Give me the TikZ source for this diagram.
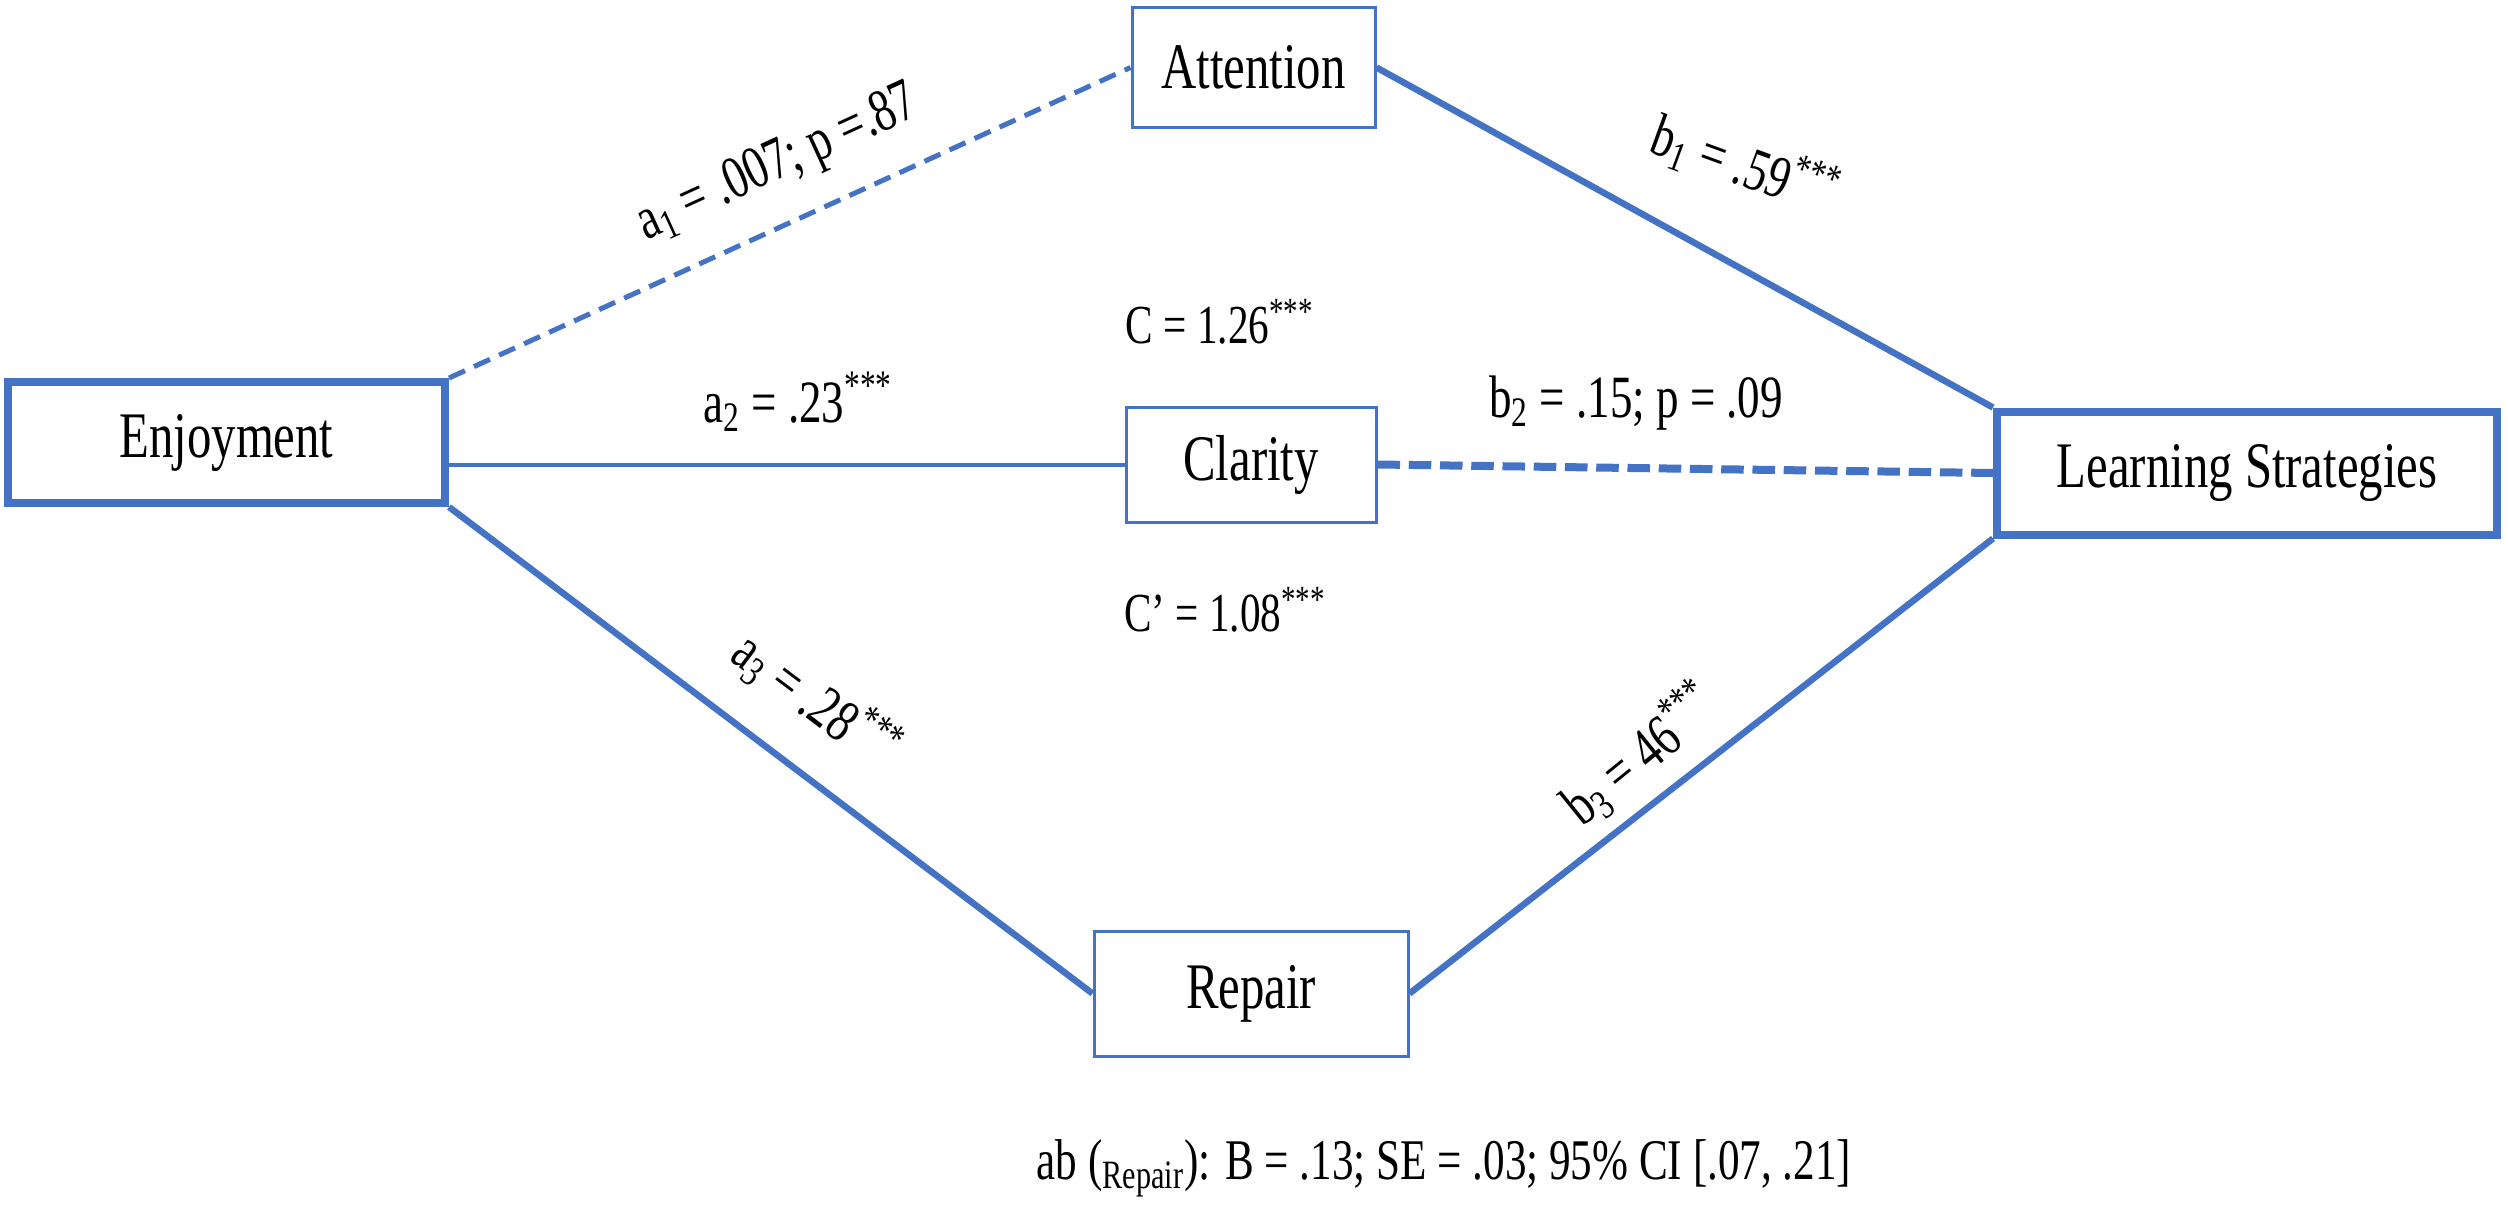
\documentclass[tikz,border=0pt]{standalone}
\usepackage{fontspec}
\setmainfont[FakeStretch=0.75]{Liberation Serif}
\usepackage{tikz}
\usetikzlibrary{positioning}
\definecolor{pathblue}{RGB}{68,114,196}
\tikzset{
  varbox/.style={draw=pathblue, line width=1.2pt, fill=white, inner sep=0pt, font=\fontsize{26}{30}\selectfont},
  mainbox/.style={varbox, line width=3.2pt},
  effect/.style={draw=pathblue, line width=2.6pt},
  nseffect/.style={draw=pathblue, line width=2pt, dash pattern=on 7pt off 4pt},
  nsbold/.style={draw=pathblue, line width=3.2pt, dash pattern=on 9pt off 3.5pt},
  coef/.style={font=\fontsize{24}{28}\selectfont, inner sep=0pt},
  total/.style={font=\fontsize{22}{26}\selectfont, inner sep=0pt}
}

\begin{document}
\begin{tikzpicture}[x=0.4pt,y=-0.4pt]
\useasboundingbox (0,0) rectangle (2508,1213);
% variables
\node[mainbox, minimum width=174.8pt, minimum height=48.4pt] (enjoy) at (226.5,442.5) {Enjoyment};
\node[varbox, minimum width=97.2pt, minimum height=47.6pt] (attn) at (1253.5,67.5) {Attention};
\node[varbox, minimum width=100pt, minimum height=46pt] (clar) at (1251,464.5) {Clarity};
\node[varbox, minimum width=125.6pt, minimum height=50pt] (repair) at (1251,993.5) {Repair};
\node[mainbox, minimum width=200pt, minimum height=49.2pt] (learn) at (2247,473) {Learning Strategies};
% paths
\draw[nseffect] (enjoy.north east) -- (attn.west);
\draw[effect, line width=1.6pt] (enjoy.east |- clar.west) -- (clar.west);
\draw[effect] (enjoy.south east) -- (repair.west);
\draw[effect] (attn.east) -- (learn.north west);
\draw[nsbold] (clar.east) -- (learn.west);
\draw[effect] (repair.east) -- (learn.south west);
% coefficients
\node[coef, rotate=24.6] (la1) at (778,165) {a\textsubscript{1} = .007; p =.87};
\node[coef, rotate=-20] (lb1) at (1745,165) {b\textsubscript{1} = .59\textsuperscript{***}};
\node[total] (lc) at (1220,322) {C = 1.26\textsuperscript{***}};
\node[coef] (la2) at (798,402) {a\textsubscript{2} = .23\textsuperscript{***}};
\node[coef] (lb2) at (1636,403) {b\textsubscript{2} = .15; p = .09};
\node[total] (lcp) at (1225,610) {C’ = 1.08\textsuperscript{***}};
\node[coef, rotate=-37] (la3) at (816,700) {a\textsubscript{3} = .28\textsuperscript{***}};
\node[coef, rotate=39] (lb3) at (1640,755) {b\textsubscript{3} = 46\textsuperscript{***}};
\node[total, font=\fontsize{23}{27}\selectfont] (note) at (1444,1168) {ab (\textsubscript{Repair}): B = .13; SE = .03; 95\% CI [.07, .21]};
\end{tikzpicture}
\end{document}
